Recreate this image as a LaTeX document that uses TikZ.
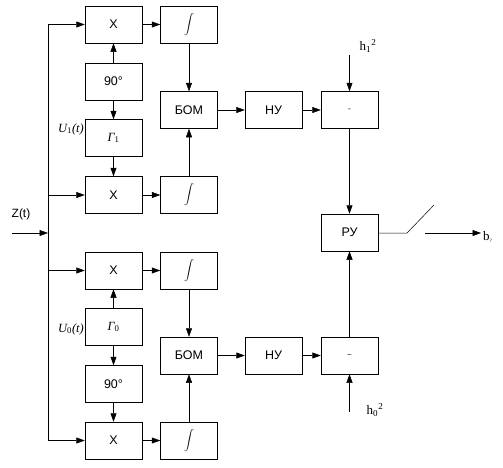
\documentclass[tikz,border=0pt]{standalone}
\usepackage{fontspec}
\setmainfont{Liberation Sans}
\newfontfamily\serifrm{Liberation Serif}
\usetikzlibrary{arrows.meta}
\tikzset{
	blk/.style={draw, line width=0.5pt, minimum width=57pt, minimum height=37pt, inner sep=0pt, font=\fontsize{12.5}{14}\selectfont},
	arr/.style={-{Triangle[length=8.5pt,width=6pt]}, line width=0.5pt},
	ln/.style={line width=0.5pt},
	lbl/.style={inner sep=0pt}
}
\newcommand{\intsign}{{\fontsize{8.5}{10}\selectfont$\displaystyle\int$}}
\begin{document}
\begin{tikzpicture}[x=1pt,y=-1pt]
		%%%%% START %%%%%
		\useasboundingbox (0,0) rectangle (503,467);
		
		% upper channel
		\node[blk] (x1) at (113.5, 24.5) {X};
		\node[blk] (int1) at (189, 24.5) {\intsign};
		\node[blk] (ph1) at (113.5, 81.5) {90°};
		\node[blk] (g1) at (113.5, 138) {\serifrm\itshape Г\textsubscript{\upshape 1}};
		\node[blk] (x2) at (113.5, 195) {X};
		\node[blk] (int2) at (189, 195) {\intsign};
		\node[blk] (bom1) at (189, 110) {БОМ};
		\node[blk] (ny1) at (273.5, 110) {НУ};
		\node[blk] (sub1) at (349.5, 110) {\fontsize{8}{9}\selectfont -};
		
		% decision
		\node[blk] (ru) at (349.5, 232.5) {РУ};
		
		% lower channel
		\node[blk] (x3) at (113.5, 270.5) {X};
		\node[blk] (int3) at (189, 270.5) {\intsign};
		\node[blk] (g0) at (113.5, 327) {\serifrm\itshape Г\textsubscript{\upshape 0}};
		\node[blk] (ph0) at (113.5, 384) {90°};
		\node[blk] (x4) at (113.5, 440.5) {X};
		\node[blk] (int4) at (189, 440.5) {\intsign};
		\node[blk] (bom0) at (189, 355.5) {БОМ};
		\node[blk] (ny0) at (273.5, 355.5) {НУ};
		\node[blk] (sub0) at (349.5, 355.5) {\fontsize{8}{9}\selectfont \textasciitilde};
		
		% labels
		\node[lbl] (zin) at (21, 214) {\fontsize{12}{13}\selectfont Z(t)};
		\node[lbl, anchor=east] (u1) at (84, 129) {\serifrm\itshape\fontsize{12.5}{13}\selectfont U\textsubscript{\upshape 1}(t)};
		\node[lbl, anchor=east] (u0) at (84, 329) {\serifrm\itshape\fontsize{12.5}{13}\selectfont U\textsubscript{\upshape 0}(t)};
		\node[lbl] (h1) at (368, 46) {\serifrm\fontsize{13}{14}\selectfont h\textsubscript{1}\textsuperscript{2}};
		\node[lbl] (h0) at (375, 410) {\serifrm\fontsize{13}{14}\selectfont h\textsubscript{0}\textsuperscript{2}};
		\node[lbl, anchor=west] (bout) at (483, 237) {\serifrm\fontsize{13}{14}\selectfont b\textsubscript{\fontsize{5}{6}\selectfont ?}};
		
		% trunk
		\coordinate (zs) at (12, 233);
		\coordinate (tz) at (48, 233);
		\coordinate (t1) at (48, 24.5);
		\coordinate (t2) at (48, 195);
		\coordinate (t3) at (48, 270.5);
		\coordinate (t4) at (48, 440.5);
		\draw[ln] (t1) -- (t4);
		\draw[arr] (zs) -- (tz);
		\draw[arr] (t1) -- (x1);
		\draw[arr] (t2) -- (x2);
		\draw[arr] (t3) -- (x3);
		\draw[arr] (t4) -- (x4);
		
		\draw[arr] (x1) -- (int1);
		\draw[arr] (x2) -- (int2);
		\draw[arr] (x3) -- (int3);
		\draw[arr] (x4) -- (int4);
		
		\draw[arr] (ph1) -- (x1);
		\draw[arr] (ph1) -- (g1);
		\draw[arr] (g1) -- (x2);
		\draw[arr] (g0) -- (x3);
		\draw[arr] (g0) -- (ph0);
		\draw[arr] (ph0) -- (x4);
		
		\draw[arr] (int1) -- (bom1);
		\draw[arr] (int2) -- (bom1);
		\draw[arr] (int3) -- (bom0);
		\draw[arr] (int4) -- (bom0);
		
		\draw[arr] (bom1) -- (ny1);
		\draw[arr] (ny1) -- (sub1);
		\draw[arr] (bom0) -- (ny0);
		\draw[arr] (ny0) -- (sub0);
		\draw[arr] (sub1) -- (ru);
		\draw[arr] (sub0) -- (ru);
		
		\coordinate (h1s) at (349.5, 55);
		\coordinate (h0s) at (349.5, 412);
		\draw[arr] (h1s) -- (sub1);
		\draw[arr] (h0s) -- (sub0);
		
		% switch
		\coordinate (sw1) at (407, 233);
		\coordinate (sw2) at (434, 205);
		\coordinate (sw3) at (425, 233);
		\coordinate (bo) at (481, 233);
		\draw[ln] (ru.east |- sw1) -- (sw1) -- (sw2);
		\draw[arr] (sw3) -- (bo);
		
		%%%%% END %%%%%
\end{tikzpicture}
\end{document}
